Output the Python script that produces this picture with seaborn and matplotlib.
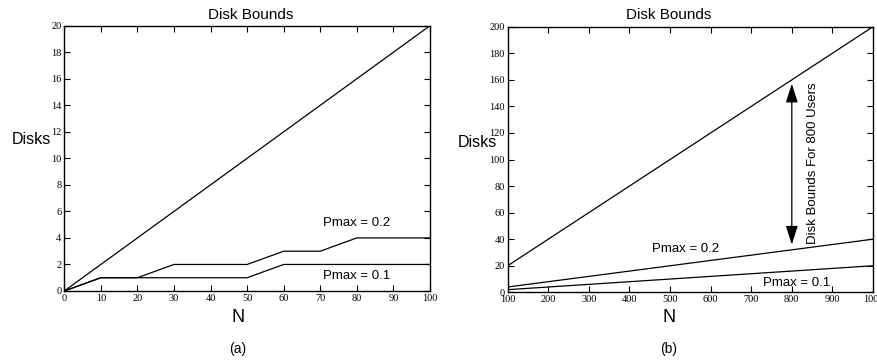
import numpy as np
import pandas as pd
import matplotlib
matplotlib.use("Agg")
import matplotlib.pyplot as plt
import seaborn as sns

# --- dados ---
n_a = [0, 10, 20, 30, 40, 50, 60, 70, 80, 90, 100]
total_a = [0, 2, 4, 6, 8, 10, 12, 14, 16, 18, 20]
pmax02_a = [0, 1, 1, 2, 2, 2, 3, 3, 4, 4, 4]
pmax01_a = [0, 1, 1, 1, 1, 1, 2, 2, 2, 2, 2]

n_b = [100, 200, 300, 400, 500, 600, 700, 800, 900, 1000]
total_b = [20, 40, 60, 80, 100, 120, 140, 160, 180, 200]
pmax02_b = [4, 8, 12, 16, 20, 24, 28, 32, 36, 40]
pmax01_b = [2, 4, 6, 8, 10, 12, 14, 16, 18, 20]

sns.set_theme(style="ticks")
plt.rcParams['font.family'] = ['Liberation Sans', 'DejaVu Sans']
plt.rcParams['text.color'] = 'black'
plt.rcParams['xtick.color'] = 'black'
plt.rcParams['ytick.color'] = 'black'

fig = plt.figure(figsize=(8.78, 3.6), dpi=100)
ax_a = fig.add_axes([0.0732, 0.1917, 0.4165, 0.7369])
ax_b = fig.add_axes([0.5782, 0.1880, 0.4161, 0.7378])


def desenha(ax, n, series):
    for ys in series:
        df = pd.DataFrame({'N': n, 'Disks': ys})
        sns.lineplot(data=df, x='N', y='Disks', ax=ax, color='black', lw=0.9)
    ax.set_xlabel('')
    ax.set_ylabel('')
    ax.tick_params(direction='in', length=4, width=0.8, top=True, right=True,
                   labelsize=7.5, pad=2, colors='black')
    for s in ax.spines.values():
        s.set_visible(True)
        s.set_color('black')
        s.set_linewidth(1.0)


def serifa(ax):
    for lab in ax.get_xticklabels() + ax.get_yticklabels():
        lab.set_family('Liberation Serif')


desenha(ax_a, n_a, [total_a, pmax02_a, pmax01_a])
ax_a.set_xlim(0, 100)
ax_a.set_ylim(0, 20)
ax_a.set_xticks(range(0, 101, 10))
ax_a.set_yticks(range(0, 21, 2))
serifa(ax_a)
ax_a.text(80, 5.15, 'Pmax = 0.2', ha='center', va='center', fontsize=9.5)
ax_a.text(80, 1.1, 'Pmax = 0.1', ha='center', va='center', fontsize=9.5)

desenha(ax_b, n_b, [total_b, pmax02_b, pmax01_b])
ax_b.set_xlim(100, 1000)
ax_b.set_ylim(0, 200)
ax_b.set_xticks(range(100, 1001, 100))
ax_b.set_yticks(range(0, 201, 20))
serifa(ax_b)
ax_b.text(538, 32.5, 'Pmax = 0.2', ha='center', va='center', fontsize=9.5)
ax_b.text(812, 7.2, 'Pmax = 0.1', ha='center', va='center', fontsize=9.5)
ax_b.annotate('', xy=(800, 157), xytext=(800, 36),
              arrowprops=dict(arrowstyle='<|-|>,head_length=1.15,head_width=0.37',
                              color='black', lw=0.9,
                              mutation_scale=10, shrinkA=0, shrinkB=0))
ax_b.text(851, 97, 'Disk Bounds For 800 Users', rotation=90,
          ha='center', va='center', fontsize=9.5)

# titulos e rotulos
fig.text(251 / 878, 1 - 15 / 360, 'Disk Bounds', ha='center', va='center', fontsize=11)
fig.text(669 / 878, 1 - 15 / 360, 'Disk Bounds', ha='center', va='center', fontsize=11)
fig.text(31 / 878, 1 - 140 / 360, 'Disks', ha='center', va='center', fontsize=11.5)
fig.text(477 / 878, 1 - 143 / 360, 'Disks', ha='center', va='center', fontsize=11.5)
fig.text(238 / 878, 1 - 317 / 360, 'N', ha='center', va='center', fontsize=13)
fig.text(669 / 878, 1 - 317 / 360, 'N', ha='center', va='center', fontsize=13)
fig.text(238 / 878, 1 - 349 / 360, '(a)', ha='center', va='center', fontsize=10)
fig.text(669 / 878, 1 - 349 / 360, '(b)', ha='center', va='center', fontsize=10)

fig.savefig('out.png', dpi=100)
